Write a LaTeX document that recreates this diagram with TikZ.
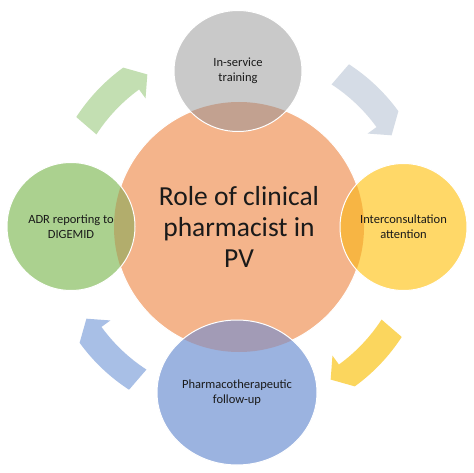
\documentclass[tikz,border=0pt]{standalone}
\usepackage{fontspec}
\setmainfont{Carlito}
\usetikzlibrary{shapes.geometric}
\definecolor{orangeC}{HTML}{F4B48B}
\definecolor{grayC}{HTML}{C9C9C9}
\definecolor{grayOv}{HTML}{C2A190}
\definecolor{greenC}{HTML}{ABD18F}
\definecolor{greenOv}{HTML}{B2AD6C}
\definecolor{yellowC}{HTML}{FFD868}
\definecolor{yellowOv}{HTML}{F7B544}
\definecolor{blueC}{HTML}{9BB3E0}
\definecolor{blueOv}{HTML}{A29BB6}
\definecolor{arrG}{HTML}{C3DFB2}
\definecolor{arrS}{HTML}{D5DCE6}
\definecolor{arrY}{HTML}{FBD65E}
\definecolor{arrB}{HTML}{A8BFE6}
\definecolor{txt}{HTML}{1A1A1A}
\tikzset{
  hub/.style={circle, fill=orangeC, draw=white, line width=1pt, minimum size=250pt, inner sep=0pt,
    text=txt, align=center, font=\fontsize{27.5}{31}\selectfont},
  satc/.style={circle, draw=white, line width=1pt, inner sep=0pt, text=txt, align=center,
    font=\fontsize{12.5}{15}\selectfont},
  sate/.style={ellipse, draw=white, line width=1pt, inner sep=0pt, text=txt, align=center,
    font=\fontsize{12.5}{15}\selectfont},
  ov/.style={path picture={\fill[#1] (hub.center) circle[radius=125pt];}}
}
\begin{document}
\begin{tikzpicture}[x=1pt,y=1pt]
\useasboundingbox (0,0) rectangle (474,472);
\fill[white] (0,0) rectangle (474,472);
% cycle arrows
\foreach \c/\col in {135/arrG,45/arrS,-45/arrY,-135/arrB}{
  \fill[\col, shift={(239,245)}]
    (\c+12:170pt) arc[start angle=\c+12, end angle=\c-9, radius=170pt]
    -- (\c-9:159pt) -- (\c-14:178pt) -- (\c-9:197pt)
    arc[start angle=\c-9, end angle=\c+12, radius=187pt] -- cycle;
}
% hub
\node[hub] (hub) at (239,245) {Role of clinical\\pharmacist in\\PV};
% satellites
\node[sate, fill=grayC, minimum width=128pt, minimum height=121pt, ov=grayOv]
  (top) at (238,401) {In-service\\training};
\node[satc, fill=yellowC, minimum size=127pt, ov=yellowOv]
  (right) at (403.5,245) {Interconsultation\\attention};
\node[sate, fill=blueC, minimum width=160pt, minimum height=145pt, ov=blueOv]
  (bottom) at (237,79.5) {Pharmacotherapeutic\\follow-up};
\node[satc, fill=greenC, minimum size=128pt, ov=greenOv]
  (left) at (71,245.5) {ADR reporting to\\DIGEMID};
\end{tikzpicture}
\end{document}
